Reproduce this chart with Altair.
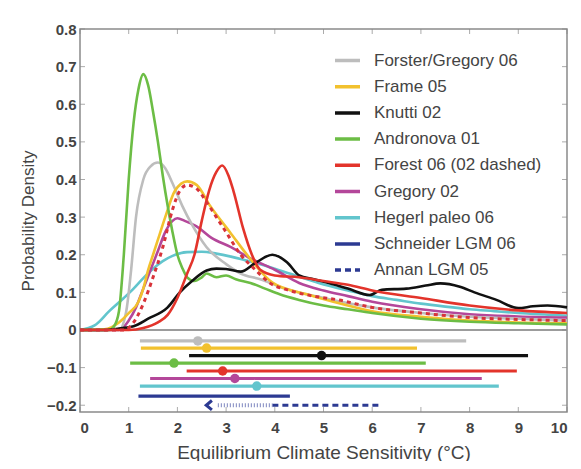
import altair as alt
import pandas as pd

# ---------------- data ----------------
series_names = ["Forster/Gregory 06", "Frame 05", "Knutti 02", "Andronova 01",
                "Forest 06 (02 dashed)", "Gregory 02", "Hegerl paleo 06",
                "Schneider LGM 06", "Annan LGM 05"]
series_colors = ["#bdbdbd", "#f2c12e", "#111111", "#6cbd45", "#e3342b",
                 "#b4479a", "#62c5cd", "#2c3a92", "#2c3a92"]
series_dash = [[1, 0]] * 8 + [[6, 4]]

# probability density curves
cyan_x = [0, 0.3, 0.6, 0.9, 1.1, 1.3, 1.5, 1.7, 1.9, 2.2, 2.5, 2.8, 3.1, 3.4, 3.7, 4.0, 4.3, 4.9, 5.5, 6, 6.5, 7, 7.5, 8, 8.5, 9, 10]
cyan_y = [0, 0.012, 0.05, 0.085, 0.11, 0.138, 0.163, 0.183, 0.197, 0.207, 0.208, 0.203, 0.195, 0.185, 0.175, 0.163, 0.15, 0.125, 0.105, 0.09, 0.08, 0.07, 0.062, 0.055, 0.05, 0.045, 0.038]

magenta_x = [0, 0.8, 1.0, 1.15, 1.3, 1.45, 1.6, 1.75, 1.9, 2.0, 2.15, 2.4, 2.7, 3.1, 3.5, 4.0, 4.5, 5, 5.5, 6, 7, 8, 9, 10]
magenta_y = [0, 0.0, 0.025, 0.06, 0.11, 0.16, 0.21, 0.26, 0.29, 0.297, 0.29, 0.275, 0.245, 0.22, 0.19, 0.16, 0.125, 0.105, 0.09, 0.075, 0.055, 0.042, 0.036, 0.033]

gray_x = [0, 0.8, 0.95, 1.05, 1.15, 1.3, 1.45, 1.6, 1.75, 1.9, 2.1, 2.3, 2.6, 3.0, 3.3, 3.7, 4.2, 5, 6, 7, 8, 9, 10]
gray_y = [0, 0.0, 0.05, 0.16, 0.30, 0.40, 0.435, 0.445, 0.43, 0.39, 0.33, 0.28, 0.22, 0.175, 0.15, 0.135, 0.11, 0.085, 0.06, 0.045, 0.035, 0.03, 0.025]

yellow_x = [0, 0.5, 0.8, 1.0, 1.2, 1.3, 1.4, 1.5, 1.6, 1.75, 1.95, 2.2, 2.4, 2.67, 3.08, 3.49, 3.96, 4.66, 5.2, 6, 7, 8, 9, 10]
yellow_y = [0, 0.002, 0.02, 0.045, 0.075, 0.11, 0.16, 0.2, 0.24, 0.3, 0.37, 0.395, 0.385, 0.33, 0.26, 0.19, 0.125, 0.095, 0.075, 0.05, 0.035, 0.025, 0.02, 0.018]

green_x = [0, 0.6, 0.7, 0.8, 0.9, 1.0, 1.1, 1.2, 1.3, 1.4, 1.5, 1.6, 1.7, 1.8, 1.9, 2.0, 2.1, 2.2, 2.35, 2.5, 2.6, 2.8, 3.0, 3.2, 3.5, 3.8, 4.1, 4.5, 5, 5.5, 6, 7, 8, 9, 10]
green_y = [0, 0.0, 0.01, 0.05, 0.2, 0.4, 0.55, 0.64, 0.68, 0.65, 0.58, 0.5, 0.41, 0.33, 0.26, 0.2, 0.165, 0.14, 0.13, 0.14, 0.15, 0.14, 0.145, 0.135, 0.125, 0.11, 0.095, 0.08, 0.065, 0.055, 0.045, 0.03, 0.022, 0.018, 0.015]

black_x = [0, 0.5, 0.8, 1.1, 1.4, 1.8, 2.05, 2.3, 2.6, 2.8, 3.0, 3.3, 3.6, 3.95, 4.25, 4.5, 4.8, 5.05, 5.5, 5.95, 6.2, 6.7, 7.1, 7.4, 7.8, 8.1, 8.55, 9.0, 9.3, 9.6, 10]
black_y = [0, 0.0, 0.004, 0.01, 0.03, 0.06, 0.1, 0.13, 0.158, 0.163, 0.162, 0.155, 0.178, 0.2, 0.18, 0.145, 0.135, 0.127, 0.11, 0.093, 0.107, 0.11, 0.118, 0.124, 0.115, 0.1, 0.08, 0.058, 0.063, 0.065, 0.06]

red_x = [0, 1.0, 1.3, 1.6, 1.8, 2.0, 2.2, 2.35, 2.5, 2.65, 2.8, 2.92, 3.05, 3.15, 3.35, 3.53, 3.7, 4.0, 4.5, 5, 5.5, 6, 7, 8, 9, 10]
red_y = [0, 0.0, 0.005, 0.02, 0.04, 0.085, 0.15, 0.2, 0.29, 0.37, 0.42, 0.437, 0.41, 0.37, 0.27, 0.2, 0.16, 0.145, 0.14, 0.13, 0.12, 0.105, 0.085, 0.065, 0.052, 0.045]

red02_x = [0, 0.9, 1.1, 1.3, 1.5, 1.7, 1.9, 2.05, 2.2, 2.4, 2.6, 2.8, 3.0, 3.3, 3.6, 3.9, 4.3, 4.8, 5.3, 6, 7, 8, 9, 10]
red02_y = [0, 0.0, 0.02, 0.07, 0.14, 0.22, 0.32, 0.37, 0.385, 0.375, 0.34, 0.3, 0.26, 0.2, 0.16, 0.125, 0.105, 0.09, 0.08, 0.06, 0.045, 0.033, 0.028, 0.025]

# 5-95% ranges and medians
range_lo = [1.23, 1.25, 2.24, 1.03, 2.19, 1.44, 1.23, 1.2, 3.95]
range_hi = [7.93, 6.92, 9.2, 7.1, 8.97, 8.25, 8.6, 4.31, 6.2]
range_med = [2.42, 2.6, 4.96, 1.93, 2.93, 3.18, 3.63, None, None]
range_level = [-0.029, -0.048, -0.068, -0.088, -0.109, -0.129, -0.149, -0.176, -0.2]
annan_arrow_x = 2.65
annan_dotted = [2.83, 3.95]

xticks = list(range(0, 11))
yticks = [-0.2, -0.1, 0, 0.1, 0.2, 0.3, 0.4, 0.5, 0.6, 0.7, 0.8]

# ---------------- tables ----------------
curve_defs = [("Hegerl paleo 06", cyan_x, cyan_y), ("Gregory 02", magenta_x, magenta_y),
              ("Forster/Gregory 06", gray_x, gray_y), ("Frame 05", yellow_x, yellow_y),
              ("Andronova 01", green_x, green_y), ("Knutti 02", black_x, black_y),
              ("Forest 06 (02 dashed)", red_x, red_y)]
rows = []
for order, (name, xs_, ys_) in enumerate(curve_defs):
    for x, y in zip(xs_, ys_):
        rows.append({"series": name, "x": x, "y": y, "o": order})
curves = pd.DataFrame(rows)
red02 = pd.DataFrame({"x": red02_x, "y": red02_y})

ranges = pd.DataFrame({"series": series_names, "x": range_lo, "hi": range_hi,
                       "y": range_level})
meds = pd.DataFrame({"series": series_names[:7], "x": range_med[:7],
                     "y": range_level[:7]})
annan_dot = pd.DataFrame({"x": [annan_dotted[0]], "b": [annan_dotted[1]], "y": [range_level[8]]})
annan_arr = pd.DataFrame({"x": [annan_arrow_x], "y": [range_level[8]]})

W, H = 487, 383
FONT = "Liberation Sans"
xs = alt.Scale(domain=[0, 10], nice=False, zero=False)
ys = alt.Scale(domain=[-0.218, 0.8], nice=False, zero=False)
cs = alt.Scale(domain=series_names, range=series_colors)
ds = alt.Scale(domain=series_names, range=series_dash)

x_axis = alt.Axis(values=xticks, format="d", title="Equilibrium Climate Sensitivity (°C)",
                  grid=False, domain=False, ticks=False, tickSize=0,
                  labelPadding=8, titlePadding=8)
y_axis = alt.Axis(values=yticks, format=".1~f", title="Probability Density",
                  grid=False, domain=False, ticks=False, tickSize=0,
                  labelPadding=4, titlePadding=9)
leg = alt.Legend(orient="none", legendX=253, legendY=17, title=None,
                 symbolType="stroke", symbolSize=625, symbolStrokeWidth=3.5,
                 labelFont=FONT, labelFontSize=17, labelColor="#444444",
                 labelLimit=400, labelOffset=12, rowPadding=3.2, padding=0)

X = lambda: alt.X("x:Q", scale=xs, axis=x_axis)
Y = lambda: alt.Y("y:Q", scale=ys, axis=y_axis)
C = lambda: alt.Color("series:N", scale=cs, legend=leg)

zero = alt.Chart(pd.DataFrame({"y": [0]})).mark_rule(color="#9c9c9c", strokeWidth=2).encode(
    y=Y(), x=alt.value(0), x2=alt.value(W))

bottom_ticks = alt.Chart(pd.DataFrame({"x": xticks})).mark_tick(
    orient="vertical", size=5, thickness=1, color="#888888").encode(x=X(), y=alt.value(H - 2.5))
top_ticks = alt.Chart(pd.DataFrame({"x": xticks})).mark_tick(
    orient="vertical", size=5, thickness=1, color="#888888").encode(x=X(), y=alt.value(2.5))
left_ticks = alt.Chart(pd.DataFrame({"y": yticks})).mark_tick(
    orient="horizontal", size=5, thickness=1, color="#888888").encode(y=Y(), x=alt.value(2.5))
right_ticks = alt.Chart(pd.DataFrame({"y": yticks})).mark_tick(
    orient="horizontal", size=5, thickness=1, color="#888888").encode(y=Y(), x=alt.value(W - 2.5))

curve_layer = alt.Chart(curves).mark_line(strokeWidth=2.6, interpolate="monotone").encode(
    x=X(), y=Y(), color=C(), order=alt.Order("x:Q"), detail="o:N")

red02_layer = alt.Chart(red02).mark_line(strokeWidth=3, strokeDash=[4, 4], color="#d8333a",
                                          interpolate="monotone").encode(x=X(), y=Y())

range_layer = alt.Chart(ranges).mark_rule(strokeWidth=3.2).encode(
    x=X(), x2="hi:Q", y=Y(), color=C(),
    strokeDash=alt.StrokeDash("series:N", scale=ds, legend=leg))

med_layer = alt.Chart(meds).mark_circle(size=90, opacity=1).encode(x=X(), y=Y(), color=C())

annan_dot_layer = alt.Chart(annan_dot).mark_rule(strokeWidth=4, strokeDash=[1, 2],
                                                 color="#7d86bf").encode(x=X(), x2="b:Q", y=Y())
annan_arr_layer = alt.Chart(annan_arr).mark_point(
    shape="M 0.6 -1 L -0.6 0 L 0.6 1", filled=False, strokeWidth=3, size=90,
    color="#2c3a92", opacity=1).encode(x=X(), y=Y())

chart = alt.layer(zero, bottom_ticks, top_ticks, left_ticks, right_ticks,
                  curve_layer, red02_layer, range_layer, med_layer,
                  annan_dot_layer, annan_arr_layer).properties(
    width=W, height=H,
    autosize=alt.AutoSizeParams(type="none"),
    padding={"left": 72, "top": 21, "right": 6, "bottom": 49},
    background="white"
).configure_view(stroke="#8a8a8a", strokeWidth=1.5).configure_axis(
    labelFont=FONT, labelFontSize=15, labelFontWeight="bold", labelColor="#444444",
    titleFont=FONT, titleFontWeight="normal", titleColor="#444444"
).configure_axisX(titleFontSize=19).configure_axisY(titleFontSize=17)

chart.save("out.html", embed_options={"renderer": "svg", "actions": False})
